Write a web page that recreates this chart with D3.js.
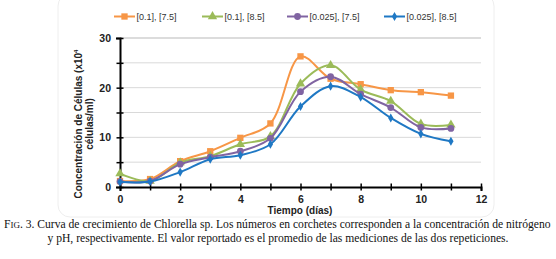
<!DOCTYPE html>
<html>
<head>
<meta charset="utf-8">
<script src="https://cdn.jsdelivr.net/npm/d3@7"></script>
<style>
  body { margin: 0; background: #fff; }
  svg { display: block; }
</style>
</head>
<body>
<script>
// Days of culture.
const days = [0, 1, 2, 3, 4, 5, 6, 7, 8, 9, 10, 11];

// Cell concentration (x10^4 cells/ml).
const conc01ph75 = [1.2, 1.6, 5.2, 7.2, 9.9, 12.8, 26.3, 21.8, 20.7, 19.5, 19.1, 18.4];
const conc01ph85 = [2.7, 1.2, 4.9, 6.2, 8.6, 10.2, 20.8, 24.5, 19.6, 17.3, 12.7, 12.5];
const conc0025ph75 = [1.1, 1.2, 4.6, 6.0, 7.2, 9.8, 19.2, 22.2, 18.7, 16.0, 12.0, 11.8];
const conc0025ph85 = [1.0, 1.1, 3.0, 5.6, 6.4, 8.6, 16.2, 20.3, 18.1, 13.9, 10.7, 9.2];

const seriesNames = ['[0.1], [7.5]', '[0.1], [8.5]', '[0.025], [7.5]', '[0.025], [8.5]'];
const seriesColors = ['#f79646', '#9bbb59', '#8064a2', '#1f78c4'];
const seriesSymbols = [d3.symbolSquare, d3.symbolTriangle, d3.symbolCircle, d3.symbolDiamond];
const symbolSizes = [40, 38, 36, 24];

const yTicks = [0, 5, 10, 15, 20, 25, 30];
const xTicks = [0, 1, 2, 3, 4, 5, 6, 7, 8, 9, 10, 11, 12];

const series = [conc01ph75, conc01ph85, conc0025ph75, conc0025ph85].map((vals, i) =>
  ({name: seriesNames[i], color: seriesColors[i], symbol: seriesSymbols[i], size: symbolSizes[i],
    points: vals.map((v, j) => ({x: days[j], y: v}))}));

const width = 556, height = 259;

const svg = d3.select('body').append('svg')
  .attr('width', width)
  .attr('height', height)
  .style('background-color', '#ffffff');

// faint chart frame
svg.append('rect')
  .attr('x', 58).attr('y', -6)
  .attr('width', 436).attr('height', 223)
  .attr('rx', 12)
  .attr('fill', 'none')
  .attr('stroke', '#eeeeee');

const x = d3.scaleLinear().domain([0, 12]).range([120, 481]);
const y = d3.scaleLinear().domain([0, 30]).range([187, 38]);

// Gridlines.
svg.append('g')
  .selectAll('line')
  .data(yTicks.filter(t => t > 0))
  .enter()
  .append('line')
  .attr('x1', x(0)).attr('x2', x(12))
  .attr('y1', d => y(d)).attr('y2', d => y(d))
  .attr('stroke', d => d === 30 ? '#d0d0d0' : '#d9d9d9')
  .attr('stroke-width', d => d === 30 ? 1.5 : 1);

// Axes: ticks cross the axis line.
const yAxis = d3.axisLeft(y)
  .tickValues(yTicks)
  .tickSize(4)
  .tickPadding(5)
  .tickFormat(d => d % 10 === 0 ? d : '');

const gy = svg.append('g')
  .attr('transform', 'translate(' + x(0) + ',0)')
  .call(yAxis);
gy.selectAll('.tick line').attr('x1', 3.5).attr('x2', -3.5).attr('stroke-width', 1.5);

const xAxis = d3.axisBottom(x)
  .tickValues(xTicks)
  .tickSize(4)
  .tickPadding(5)
  .tickFormat(d => d % 2 === 0 ? d : '');

const gx = svg.append('g')
  .attr('transform', 'translate(0,' + y(0) + ')')
  .call(xAxis);
gx.selectAll('.tick line').attr('y1', -3.5).attr('y2', 3.5).attr('stroke-width', 1.5);

[gx, gy].forEach(g => {
  g.select('.domain').attr('stroke', '#000').attr('stroke-width', 2);
  g.selectAll('text')
    .style('font-family', 'Liberation Sans, Arial, sans-serif')
    .style('font-size', '10.5px')
    .style('font-weight', 'bold')
    .attr('fill', '#222');
});

// Lines + markers.
const line = d3.line()
  .x(d => x(d.x))
  .y(d => y(d.y))
  .curve(d3.curveCatmullRom.alpha(0.5));

series.forEach(s => {
  svg.append('path')
    .datum(s.points)
    .attr('fill', 'none')
    .attr('stroke', s.color)
    .attr('stroke-width', 2)
    .attr('d', line);

  svg.append('g')
    .selectAll('path')
    .data(s.points)
    .enter()
    .append('path')
    .attr('transform', d => 'translate(' + x(d.x) + ',' + y(d.y) + ')')
    .attr('d', d3.symbol().type(s.symbol).size(s.size))
    .attr('fill', s.color);
});

// Legend.
const legendX = [114, 202, 287, 384];
const legendY = 16.5;
const legend = svg.append('g')
  .selectAll('g')
  .data(series)
  .enter()
  .append('g')
  .attr('transform', (d, i) => 'translate(' + legendX[i] + ',' + legendY + ')');

legend.append('line')
  .attr('x1', 0).attr('x2', 21)
  .attr('stroke', d => d.color)
  .attr('stroke-width', 2);
legend.append('path')
  .attr('transform', 'translate(10.5,0)')
  .attr('d', d => d3.symbol().type(d.symbol).size(d.size)())
  .attr('fill', d => d.color);
legend.append('text')
  .attr('x', 22.5)
  .attr('dy', '0.35em')
  .style('font-family', 'Liberation Sans, Arial, sans-serif')
  .style('font-size', '9px')
  .attr('fill', '#333')
  .text(d => d.name);

// Axis titles.
svg.append('text')
  .attr('x', 300).attr('y', 214)
  .attr('text-anchor', 'middle')
  .style('font-family', 'Liberation Sans, Arial, sans-serif')
  .style('font-size', '10px')
  .style('font-weight', 'bold')
  .attr('fill', '#222')
  .text('Tiempo (días)');

const yTitle = svg.append('text')
  .attr('transform', 'translate(82,124) rotate(-90)')
  .attr('text-anchor', 'middle')
  .style('font-family', 'Liberation Sans, Arial, sans-serif')
  .style('font-size', '10px')
  .style('font-weight', 'bold')
  .attr('fill', '#222');
yTitle.append('tspan').attr('x', 0).attr('y', 0)
  .text('Concentración de Células (x10')
  .append('tspan').attr('dy', -4).style('font-size', '6px').text('4');
yTitle.append('tspan').attr('x', 0).attr('y', 10.5).text('células/ml)');

// Caption.
const caption = svg.append('text')
  .style('font-family', 'Liberation Serif, Times New Roman, serif')
  .style('font-size', '11.6px')
  .attr('fill', '#111');
const cap1 = caption.append('tspan').attr('x', 4).attr('y', 228);
cap1.append('tspan').text('F');
cap1.append('tspan').style('font-size', '9px').text('IG');
cap1.append('tspan').text('. 3. Curva de crecimiento de Chlorella sp. Los números en corchetes corresponden a la concentración de nitrógeno');
caption.append('tspan')
  .attr('x', 278).attr('y', 242)
  .attr('text-anchor', 'middle')
  .text('y pH, respectivamente. El valor reportado es el promedio de las mediciones de las dos repeticiones.');
</script>
</body>
</html>
